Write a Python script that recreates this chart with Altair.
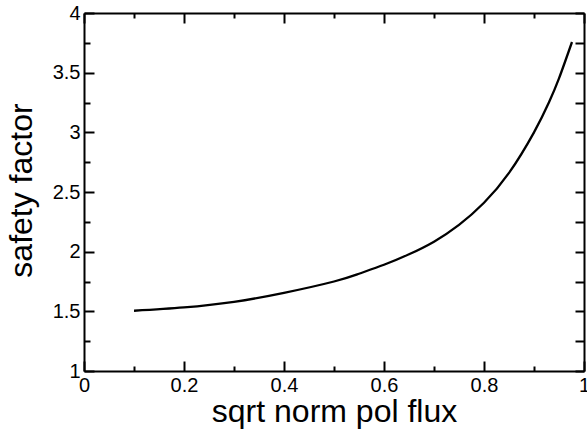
import altair as alt
import pandas as pd

# ---- data ----
psi = [0.1, 0.2, 0.3, 0.4, 0.5, 0.55, 0.6, 0.65, 0.7, 0.75, 0.8, 0.85,
       0.9, 0.93, 0.95, 0.976]
q = [1.505, 1.533, 1.58, 1.655, 1.75, 1.815, 1.89, 1.978, 2.084, 2.224,
     2.41, 2.66, 3.0, 3.252, 3.452, 3.757]

x_major = [0, 0.2, 0.4, 0.6, 0.8, 1.0]
x_minor = [0.1, 0.3, 0.5, 0.7, 0.9]
y_major = [1, 1.5, 2, 2.5, 3, 3.5, 4]
y_minor = [1.25, 1.75, 2.25, 2.75, 3.25, 3.75]

x_title = "sqrt norm pol flux"
y_title = "safety factor"

df = pd.DataFrame({"psi": psi, "q": q})

W, H = 500, 358
FONT = "Liberation Sans"

xs = alt.Scale(domain=[0, 1], nice=False, zero=False)
ys = alt.Scale(domain=[1, 4], nice=False, zero=False)


def tick_axis(**kw):
    base = dict(grid=False, labels=False, domain=False, ticks=True,
                tickColor="black", tickWidth=2, title=None)
    base.update(kw)
    return alt.Axis(**base)


x_lab = alt.Axis(orient="bottom", values=x_major, format="~g", grid=False,
                 ticks=False, tickSize=0, domain=True, domainColor="black",
                 domainWidth=2, labels=True, labelFont=FONT, labelFontSize=20,
                 labelColor="black", labelPadding=20, labelBaseline="alphabetic",
                 labelFlush=False, labelOverlap=False,
                 title=x_title, titleFont=FONT, titleFontSize=32,
                 titleFontWeight="normal", titleColor="black", titleY=50,
                 titleBaseline="alphabetic")
y_lab = alt.Axis(orient="left", values=y_major, format="~g", grid=False,
                 ticks=False, tickSize=0, domain=True, domainColor="black",
                 domainWidth=2, labels=True, labelFont=FONT, labelFontSize=20,
                 labelColor="black", labelPadding=4, labelFlush=False,
                 labelOverlap=False,
                 title=y_title, titleFont=FONT, titleFontSize=32,
                 titleFontWeight="normal", titleColor="black", titleX=-53,
                 titleY=177, titleBaseline="alphabetic")

x_ax = [
    x_lab,
    tick_axis(orient="top", offset=-H, values=x_major, tickSize=10),
    tick_axis(orient="top", offset=-H, values=x_minor, tickSize=5),
    tick_axis(orient="bottom", offset=-H, values=x_major, tickSize=10,
              domain=True, domainColor="black", domainWidth=2),
    tick_axis(orient="bottom", offset=-H, values=x_minor, tickSize=5),
]
y_ax = [
    y_lab,
    tick_axis(orient="right", offset=-W, values=y_major, tickSize=10),
    tick_axis(orient="right", offset=-W, values=y_minor, tickSize=6),
    tick_axis(orient="left", offset=-W, values=y_major + y_minor, tickSize=9,
              domain=True, domainColor="black", domainWidth=2),
    None,
]

layers = []
for i in range(5):
    op = 1 if i == 0 else 0
    layers.append(
        alt.Chart(df).mark_line(color="black", strokeWidth=2.3, opacity=op,
                                interpolate="natural").encode(
            x=alt.X("psi:Q", scale=xs, axis=x_ax[i]),
            y=alt.Y("q:Q", scale=ys, axis=y_ax[i]),
        )
    )

chart = alt.layer(*layers).resolve_axis(
    x="independent", y="independent"
).properties(
    width=W, height=H,
    autosize=alt.AutoSizeParams(type="none"),
    padding={"left": 84, "top": 13, "right": 3, "bottom": 65},
    background="white",
).configure_view(strokeWidth=0)

chart.save("out.html", embed_options={"renderer": "svg", "actions": False})
